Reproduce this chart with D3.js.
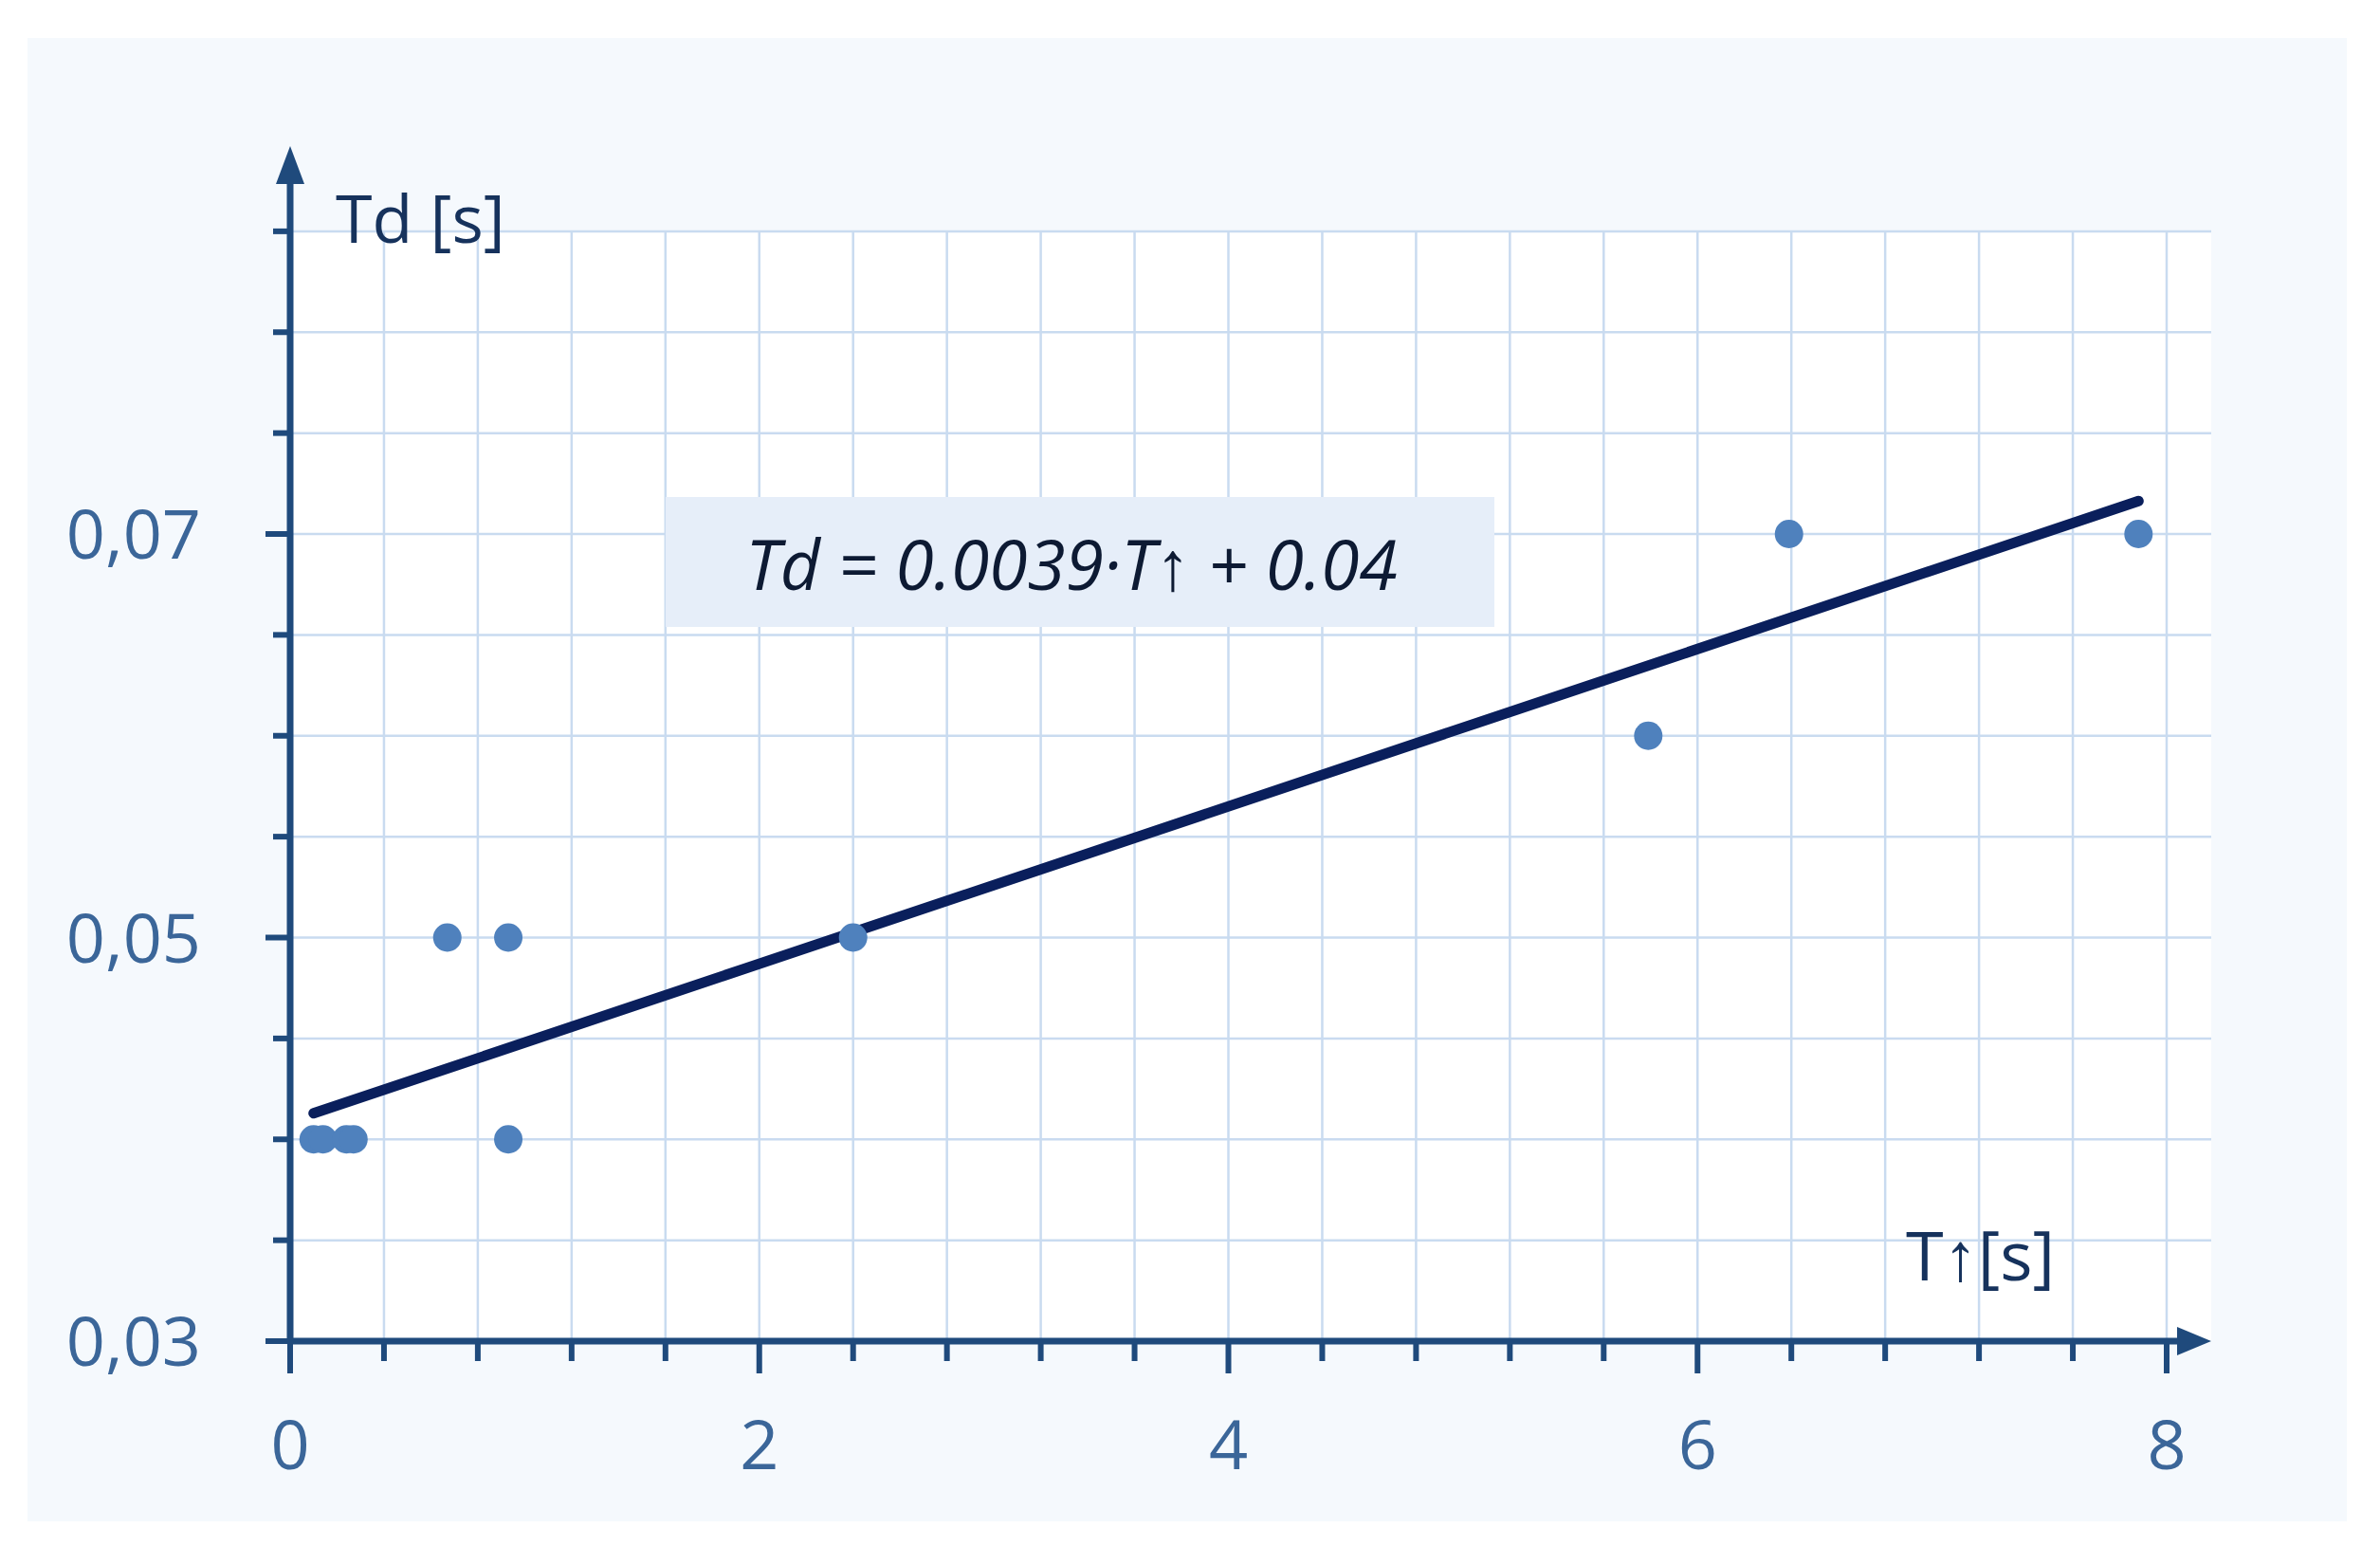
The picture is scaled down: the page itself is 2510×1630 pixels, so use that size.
<!DOCTYPE html>
<html><head><meta charset="utf-8">
<script src="https://cdn.jsdelivr.net/npm/d3@7"></script>
<style>body{margin:0;background:#fff}</style></head>
<body><svg id="c" width="2510" height="1630"></svg>
<script>
const xs = [0.1, 0.14, 0.24, 0.27, 0.67, 0.93, 0.93, 2.4, 5.79, 6.39, 7.88];
const ys = [0.04, 0.04, 0.04, 0.04, 0.05, 0.05, 0.04, 0.05, 0.06, 0.07, 0.07];
const fitX = [0.1, 7.88];
const slope = 0.0039, intercept = 0.0409;
const xTickLabels = [0, 2, 4, 6, 8];
const yTickLabels = [0.03, 0.05, 0.07];
const equation = "Td = 0.0039·T\u2191 + 0.04";

const svg = d3.select("#c");
const F = "'Open Sans', 'Noto Sans', sans-serif";
svg.append("rect").attr("x",29).attr("y",40).attr("width",2446).attr("height",1564).attr("fill","#f5f9fd");
const x = d3.scaleLinear().domain([0,8]).range([306,2285]);
const y = d3.scaleLinear().domain([0.03,0.07]).range([1414,563]);
const xMax = 8.19, yMax = 0.085;
svg.append("rect").attr("x",x(0)).attr("y",y(yMax)).attr("width",x(xMax)-x(0)).attr("height",y(0.03)-y(yMax)).attr("fill","#fff");
const g = svg.append("g");
const gx = d3.range(0, 8.01, 0.4), gy = d3.range(0.035, 0.0851, 0.005);
g.selectAll(".vx").data(gx.slice(1)).join("line").attr("x1",d=>x(d)).attr("x2",d=>x(d)).attr("y1",y(yMax)).attr("y2",y(0.03)).attr("stroke","#c9dbf0").attr("stroke-width",2.5);
g.selectAll(".hy").data(gy).join("line").attr("x1",x(0)).attr("x2",x(xMax)).attr("y1",d=>y(d)).attr("y2",d=>y(d)).attr("stroke","#c9dbf0").attr("stroke-width",2.5);
// equation box
svg.append("rect").attr("x",702).attr("y",524).attr("width",874).attr("height",137).attr("fill","#e6eef9");
svg.append("text").attr("x",1130).attr("y",622).attr("text-anchor","middle").attr("font-family",F).attr("font-style","italic").attr("font-size",73).attr("fill","#0d1a33").text(equation);
const ac = "#1f4a7c";
const yt = d3.range(0.03,0.0851,0.005);
svg.selectAll(".xt").data(gx).join("line").attr("x1",d=>x(d)).attr("x2",d=>x(d)).attr("y1",y(0.03)).attr("y2",d=>Math.abs(d/2-Math.round(d/2))<1e-6?y(0.03)+34:y(0.03)+21).attr("stroke",ac).attr("stroke-width",6);
svg.selectAll(".yt").data(yt).join("line").attr("y1",d=>y(d)).attr("y2",d=>y(d)).attr("x1",x(0)).attr("x2",d=>yTickLabels.some(v=>Math.abs(v-d)<1e-6)?x(0)-26:x(0)-18).attr("stroke",ac).attr("stroke-width",6);
svg.append("line").attr("x1",x(0)).attr("x2",x(xMax)-20).attr("y1",y(0.03)).attr("y2",y(0.03)).attr("stroke",ac).attr("stroke-width",7);
svg.append("line").attr("x1",x(0)).attr("x2",x(0)).attr("y1",y(0.03)+3).attr("y2",y(yMax)-60).attr("stroke",ac).attr("stroke-width",7);
svg.append("path").attr("d",`M${x(xMax)},${y(0.03)} l-36,-15 l0,30 z`).attr("fill",ac);
svg.append("path").attr("d",`M${x(0)},${y(yMax)-90} l-15,40 l30,0 z`).attr("fill",ac);
svg.selectAll(".xl").data(xTickLabels).join("text").attr("x",d=>x(d)).attr("y",y(0.03)+135).attr("text-anchor","middle").attr("font-family",F).attr("font-size",72).attr("fill","#3b6699").text(d=>d);
svg.selectAll(".yl").data(yTickLabels).join("text").attr("x",212).attr("y",d=>y(d)+26).attr("text-anchor","end").attr("font-family",F).attr("font-size",72).attr("fill","#3b6699").text(d=>d3.format(".2f")(d).replace(".",","));
svg.append("text").attr("x",354).attr("y",256).attr("font-family",F).attr("font-size",70).attr("fill","#16325c").text("Td [s]");
svg.append("text").attr("x",2010).attr("y",1350).attr("font-family",F).attr("font-size",72).attr("fill","#16325c").text("T\u2191[s]");
svg.append("line").attr("x1",x(fitX[0])).attr("y1",y(slope*fitX[0]+intercept)).attr("x2",x(fitX[1])).attr("y2",y(slope*fitX[1]+intercept)).attr("stroke","#0a1f5c").attr("stroke-width",11).attr("stroke-linecap","round");
svg.selectAll(".p").data(xs.map((v,i)=>[v,ys[i]])).join("circle").attr("cx",d=>x(d[0])).attr("cy",d=>y(d[1])).attr("r",15).attr("fill","#4f81bd");
</script></body></html>
